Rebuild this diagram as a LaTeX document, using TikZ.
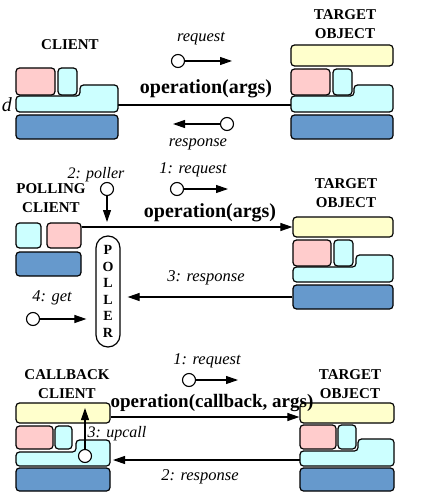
\documentclass[tikz,border=0pt]{standalone}
\usepackage{fontspec}
\setmainfont{Liberation Serif}
\usetikzlibrary{positioning,fit,arrows.meta}
\definecolor{mypink}{RGB}{255,204,204}
\definecolor{mycyan}{RGB}{204,255,255}
\definecolor{myyellow}{RGB}{255,255,204}
\definecolor{myblue}{RGB}{102,153,204}
\tikzset{
		block/.style = 	{draw, line width=1.2pt, rounded corners=3.5pt, inner sep=0pt},
		lshape/.style = 	{draw, line width=1.2pt, rounded corners=3.5pt, fill=mycyan},
		title/.style = 	{font=\fontsize{15}{19}\selectfont\bfseries, align=center, inner sep=0pt},
		opname/.style = 	{font=\fontsize{20}{22}\selectfont\bfseries, inner sep=0pt},
		msg/.style = 	{font=\fontsize{16.5}{18}\selectfont\itshape, inner sep=0pt},
		pollchar/.style = 	{font=\fontsize{14}{15}\selectfont\bfseries, inner sep=0pt},
		wire/.style = 	{line width=1.1pt},
		call/.style = 	{line width=1.1pt, -{Triangle[length=12pt,width=8pt]}},
		hole/.style = 	{circle, draw, line width=1.1pt, fill=white, minimum size=13pt, inner sep=0pt}
}
% block from corner to corner
\newcommand\blk[4]{\node[block, fill=#2, fit={#3 #4}] (#1) {};}
% cyan L-shaped block: x1, xb, x2, ytop, ymid, ybot
\newcommand\lblk[6]{\draw[lshape] (#1,#5) -- (#2,#5) -- (#2,#4) -- (#3,#4) -- (#3,#6) -- (#1,#6) -- cycle;}

\begin{document}
\begin{tikzpicture}[x=1pt, y=-1pt]
  \useasboundingbox (0,0) rectangle (428,492);

  % ---------- plain request / response ----------
  \node[msg, font=\fontsize{20}{22}\selectfont\itshape, anchor=east] (cut) at (12,105) {d};
  \node[title] (client1) at (70,45) {CLIENT};
  \node[title] (target1) at (345,24) {TARGET\\OBJECT};

  \coordinate (c1out) at (118,105);
  \coordinate (t1in) at (291,105);
  \draw[wire] (c1out) -- (t1in);

  \blk{c1pink}{mypink}{(16,68)}{(55,95)}
  \blk{c1cyan}{mycyan}{(58,68)}{(77,95)}
  \lblk{16}{80}{118}{85}{96}{112}
  \blk{c1blue}{myblue}{(16,115)}{(118,139)}

  \blk{t1yellow}{myyellow}{(291,45)}{(393,66)}
  \blk{t1pink}{mypink}{(291,69)}{(330,95)}
  \blk{t1cyan}{mycyan}{(333,69)}{(352,95)}
  \lblk{291}{354}{393}{85}{96}{112}
  \blk{t1blue}{myblue}{(291,115)}{(393,139)}

  \node[msg] (reqtxt1) at (201,39) {request};
  \node[hole] (req1) at (178,61) {};
  \coordinate (req1end) at (232,61);
  \draw[call] (req1) -- (req1end);
  \node[opname] (op1) at (206,89) {operation(args)};
  \node[hole] (resp1) at (227,124) {};
  \coordinate (resp1end) at (173,124);
  \draw[call] (resp1) -- (resp1end);
  \node[msg] (resptxt1) at (198,144) {response};

  % ---------- polling ----------
  \node[title] (client2) at (51,198.5) {POLLING\\CLIENT};
  \node[title] (target2) at (346,193) {TARGET\\OBJECT};

  \blk{c2cyan}{mycyan}{(16,223)}{(41,248)}
  \blk{c2pink}{mypink}{(47,223)}{(81,248)}
  \blk{c2blue}{myblue}{(16,252)}{(81,276)}

  \blk{t2yellow}{myyellow}{(293,217)}{(393,237)}
  \blk{t2pink}{mypink}{(293,240)}{(331,266)}
  \blk{t2cyan}{mycyan}{(334,240)}{(353,266)}
  \lblk{293}{356}{393}{255}{267}{282}
  \blk{t2blue}{myblue}{(293,285)}{(393,309)}

  \node[draw, line width=1.2pt, rounded corners=12pt, inner sep=0pt, fit={(96,236) (120,347)}] (poller) {};
  \foreach \ch [count=\i] in {P,O,L,L,E,R}
    \node[pollchar] (poll\i) at (108,{250+16.6*(\i-1)}) {\ch};

  \draw[call] (c2pink.east |- t2yellow.west) -- (t2yellow.west);
  \draw[call, shorten >=7pt] (t2blue.west) -- (t2blue.west -| poller.east);

  \node[msg, font=\fontsize{16}{18}\selectfont\itshape] (polltxt) at (96,175) {2: poller};
  \node[hole] (poll2) at (107,189) {};
  \coordinate (poll2end) at (107,222);
  \draw[call] (poll2) -- (poll2end);

  \node[msg] (reqtxt2) at (193,170) {1: request};
  \node[hole] (req2) at (177,189) {};
  \coordinate (req2end) at (228,189);
  \draw[call] (req2) -- (req2end);
  \node[opname] (op2) at (210,213) {operation(args)};
  \node[msg] (resptxt2) at (206,278) {3: response};

  \node[msg] (gettxt) at (52,298) {4: get};
  \node[hole] (get4) at (33,319) {};
  \draw[call, shorten >=9pt] (get4) -- (get4 -| poller.west);

  % ---------- callback ----------
  \node[title] (client3) at (67,384.5) {CALLBACK\\CLIENT};
  \node[title] (target3) at (350,384) {TARGET\\OBJECT};

  \blk{c3yellow}{myyellow}{(16,403)}{(110,423)}
  \blk{c3pink}{mypink}{(16,426)}{(53,449)}
  \blk{c3cyan}{mycyan}{(55,426)}{(72,449)}
  \lblk{16}{76}{110}{440}{452}{466}
  \blk{c3blue}{myblue}{(16,468)}{(110,491)}

  \blk{t3yellow}{myyellow}{(300,403)}{(394,423)}
  \blk{t3pink}{mypink}{(300,425)}{(336,449)}
  \blk{t3cyan}{mycyan}{(338,425)}{(356,449)}
  \lblk{300}{358}{394}{439}{451}{466}
  \blk{t3blue}{myblue}{(300,468)}{(394,491)}

  \draw[call] ([yshift=-4pt]c3yellow.east) -- ([yshift=-4pt]t3yellow.west);
  \coordinate (t3out) at (300,460);
  \coordinate (c3in) at (110,460);
  \draw[call, shorten >=3pt] (t3out) -- (c3in);

  \node[hole] (up3) at (85,456) {};
  \coordinate (up3end) at (85,408);
  \draw[call] (up3) -- (up3end);
  \node[msg, font=\fontsize{16}{18}\selectfont\itshape] (uptxt) at (117,434) {3: upcall};

  \node[msg] (reqtxt3) at (207,361) {1: request};
  \node[hole] (req3) at (189,380) {};
  \coordinate (req3end) at (238,380);
  \draw[call] (req3) -- (req3end);
  \node[opname, font=\fontsize{19}{21}\selectfont\bfseries] (op3) at (212,403) {operation(callback, args)};
  \node[msg] (resptxt3) at (200,477) {2: response};

\end{tikzpicture}
\end{document}
